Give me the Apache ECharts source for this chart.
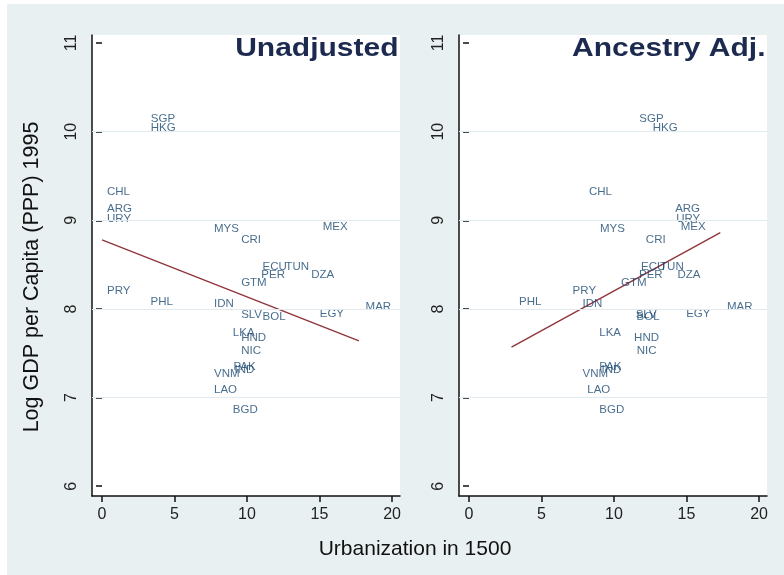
<!DOCTYPE html>
<html><head><meta charset="utf-8">
<script src="https://cdn.jsdelivr.net/npm/echarts@6/dist/echarts.min.js"></script>
<style>html,body{margin:0;padding:0;background:#e9f0f2;overflow:hidden}#c{width:784px;height:575px}</style>
</head><body><div id="c"></div>
<script>
// ---- data ----
const countries = ['SGP','HKG','CHL','ARG','URY','MYS','MEX','CRI','ECU','TUN','PER','DZA','GTM','PRY','PHL','IDN','SLV','BOL','EGY','MAR','LKA','HND','NIC','PAK','IND','VNM','LAO','BGD'];
const gdp      = [10.14,10.04,9.32,9.13,9.02,8.90,8.93,8.78,8.48,8.48,8.38,8.38,8.29,8.20,8.08,8.06,7.93,7.91,7.95,8.02,7.73,7.67,7.53,7.35,7.31,7.27,7.09,6.86];
const urbUnadj = [3.02,3.02,0,0,0,7.38,14.88,9.25,10.73,12.30,10.64,14.08,9.25,0,3.00,7.38,9.25,10.73,14.67,17.83,8.68,9.25,9.25,8.72,8.80,7.38,7.38,8.68];
const urbAdj   = [11.40,12.33,7.93,13.87,13.94,8.69,14.26,11.85,11.52,12.83,11.38,14.03,10.14,6.80,3.11,7.49,11.15,11.21,14.63,17.44,8.64,11.04,11.22,8.64,8.80,7.49,7.81,8.64];
const fitUnadj = [[0, 8.78], [17.72, 7.64]];
const fitAdj   = [[2.93, 7.57], [17.33, 8.86]];
const xTicks = [0, 5, 10, 15, 20];
const yTicks = [6, 7, 8, 9, 10, 11];
const gridLevels = [7, 8, 9, 10];
const panelTitles = ['Unadjusted', 'Ancestry Adj.'];
const xTitle = 'Urbanization in 1500';
const yTitle = 'Log GDP per Capita (PPP) 1995';
const xRange = [-0.69, 20.55];
const yRange = [5.89, 11.09];

// ---- layout ----
const FONT = '"Liberation Sans", Arial, sans-serif';
const NAVY = '#1a476f';
const AX = '#111';
const P = {top: 35, height: 461, width: 308, lefts: [92, 459]};
const pxu = P.width / (xRange[1] - xRange[0]);
const pyu = P.height / (yRange[1] - yRange[0]);
const xT0 = xTicks[0], xT1 = xTicks[xTicks.length - 1];
const yT0 = yTicks[0], yT1 = yTicks[yTicks.length - 1];

const grids = [], xAxes = [], yAxes = [], series = [];
const panels = [{x: urbUnadj, fit: fitUnadj}, {x: urbAdj, fit: fitAdj}];

panels.forEach((pn, i) => {
  const left = P.lefts[i];
  grids.push({left: left, top: P.top, width: P.width, height: P.height, show: true,
    backgroundColor: '#fff', borderWidth: 0, containLabel: false, outerBoundsMode: 'none'});
  xAxes.push({gridIndex: i, type: 'value', min: xRange[0], max: xRange[1],
    axisLine: {show: true, onZero: false, lineStyle: {color: AX, width: 1.5}},
    axisTick: {show: false}, axisLabel: {show: false}, splitLine: {show: false}});
  yAxes.push({gridIndex: i, type: 'value', min: yRange[0], max: yRange[1],
    axisLine: {show: true, onZero: false, lineStyle: {color: AX, width: 1.5}},
    axisTick: {show: false}, axisLabel: {show: false}, splitLine: {show: false}});
});

panels.forEach((pn, i) => {
  const left = P.lefts[i];
  const tLeft = left + (xT0 - xRange[0]) * pxu;
  const tWidth = (xT1 - xT0) * pxu;
  const tTop = P.top + (yRange[1] - yT1) * pyu;
  const tHeight = (yT1 - yT0) * pyu;
  const gi = 2 + i;
  grids.push({left: tLeft, top: tTop, width: tWidth, height: tHeight, show: false, containLabel: false, outerBoundsMode: 'none'});
  xAxes.push({gridIndex: gi, type: 'value', min: xT0, max: xT1, interval: xTicks[1] - xTicks[0],
    position: 'bottom', offset: (P.top + P.height) - (tTop + tHeight),
    axisLine: {show: false}, splitLine: {show: false},
    axisTick: {show: true, length: 6, lineStyle: {color: AX, width: 1.5}},
    axisLabel: {show: true, margin: 11, fontSize: 16, fontFamily: FONT, color: '#222',
      formatter: v => xTicks.indexOf(v) >= 0 ? String(v) : ''}});
  yAxes.push({gridIndex: gi, type: 'value', min: yT0, max: yT1, interval: yTicks[1] - yTicks[0],
    position: 'left', offset: tLeft - left,
    axisLine: {show: false}, splitLine: {show: false},
    axisTick: {show: true, length: 6, lineStyle: {color: AX, width: 1.5}},
    axisLabel: {show: true, rotate: 90, margin: 12, fontSize: 16, fontFamily: FONT, color: '#222',
      formatter: v => yTicks.indexOf(v) >= 0 ? String(v) : ''}});
});

panels.forEach((pn, i) => {
  // grid lines
  series.push({type: 'line', xAxisIndex: i, yAxisIndex: i, data: [], silent: true, z: 1,
    markLine: {silent: true, symbol: ['none', 'none'], label: {show: false},
      lineStyle: {color: '#e1eaee', width: 1, type: 'solid'},
      emphasis: {disabled: true},
      data: gridLevels.map(v => ({yAxis: v}))}});
  // fitted line
  series.push({type: 'line', xAxisIndex: i, yAxisIndex: i, data: pn.fit, showSymbol: false,
    symbol: 'none', silent: true, z: 3,
    lineStyle: {color: '#90353b', width: 1.4}});
  // country labels
  series.push({type: 'scatter', xAxisIndex: i, yAxisIndex: i, silent: true, z: 4,
    symbolSize: 1, itemStyle: {color: 'rgba(0,0,0,0)'},
    data: countries.map((c, k) => ({name: c, value: [pn.x[k], gdp[k]]})),
    label: {show: true, position: 'right', distance: 4.5, formatter: p => p.name,
      fontSize: 11.5, fontFamily: FONT, color: NAVY}});
});

const graphic = [
  {type: 'rect', shape: {x: 0, y: 0, width: 7, height: 575}, style: {fill: '#fff'}, silent: true},
  {type: 'rect', shape: {x: 0, y: 0, width: 784, height: 4}, style: {fill: '#fff'}, silent: true},
  {type: 'text', x: P.lefts[0] + P.width - 1.5, y: 49, scaleX: 1.2, silent: true,
    style: {text: panelTitles[0], fontSize: 25, fontWeight: 'bold', fontFamily: FONT, fill: '#1b2a4e',
      align: 'right', textAlign: 'right', verticalAlign: 'middle', textVerticalAlign: 'middle'}},
  {type: 'text', x: P.lefts[1] + P.width - 1.5, y: 49, scaleX: 1.2, silent: true,
    style: {text: panelTitles[1], fontSize: 25, fontWeight: 'bold', fontFamily: FONT, fill: '#1b2a4e',
      align: 'right', textAlign: 'right', verticalAlign: 'middle', textVerticalAlign: 'middle'}},
  {type: 'text', x: 415, y: 549.5, silent: true,
    style: {text: xTitle, fontSize: 21, fontFamily: FONT, fill: '#111',
      align: 'center', textAlign: 'center', verticalAlign: 'middle', textVerticalAlign: 'middle'}},
  {type: 'text', x: 32, y: 277, rotation: Math.PI / 2, silent: true,
    style: {text: yTitle, fontSize: 21.5, fontFamily: FONT, fill: '#111',
      align: 'center', textAlign: 'center', verticalAlign: 'middle', textVerticalAlign: 'middle'}}
];

const chart = echarts.init(document.getElementById('c'), null, {renderer: 'canvas'});
chart.setOption({
  animation: false,
  backgroundColor: '#e9f0f2',
  grid: grids, xAxis: xAxes, yAxis: yAxes, series: series, graphic: graphic
});
</script>
</body></html>
